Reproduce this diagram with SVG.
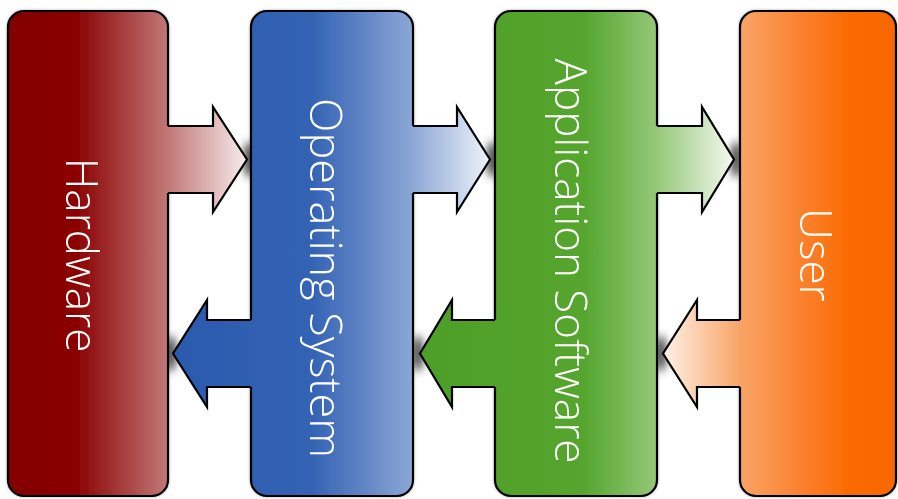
<svg xmlns="http://www.w3.org/2000/svg" width="898" height="499" viewBox="0 0 898 499">
  <style>
    .box { stroke: #000; stroke-width: 2.2; }
    .edge { fill: none; stroke: #000; stroke-width: 2.2; stroke-linejoin: miter; }
    .label { font-family: "Open Sans", "Liberation Sans", sans-serif; font-weight: 300; font-size: 44px; fill: #fff; text-anchor: middle; }
    .halo { fill: #333; filter: url(#soft); }
  </style>
  <defs>
    <filter id="soft" x="-2" y="-1" width="5" height="3">
      <feGaussianBlur stdDeviation="4"/>
    </filter>
    <filter id="lift" x="-0.1" y="-0.1" width="1.2" height="1.2">
      <feDropShadow dx="0" dy="0" stdDeviation="1.5" flood-color="#000" flood-opacity="0.3"/>
    </filter>
    <linearGradient id="gRed" gradientUnits="userSpaceOnUse" x1="8" y1="0" x2="247" y2="0">
      <stop offset="0" stop-color="#830000"/>
      <stop offset="0.28" stop-color="#8a0000"/>
      <stop offset="0.67" stop-color="#c27878"/>
      <stop offset="1" stop-color="#f7ecec"/>
    </linearGradient>
    <linearGradient id="gBlue" gradientUnits="userSpaceOnUse" x1="173" y1="0" x2="490" y2="0">
      <stop offset="0" stop-color="#2a5aae"/>
      <stop offset="0.44" stop-color="#3463b4"/>
      <stop offset="0.757" stop-color="#8ca7d6"/>
      <stop offset="1" stop-color="#eff3fa"/>
    </linearGradient>
    <linearGradient id="gGreen" gradientUnits="userSpaceOnUse" x1="420" y1="0" x2="734" y2="0">
      <stop offset="0" stop-color="#4d9e27"/>
      <stop offset="0.52" stop-color="#55a52e"/>
      <stop offset="0.755" stop-color="#95c879"/>
      <stop offset="1" stop-color="#f4f9f0"/>
    </linearGradient>
    <linearGradient id="gOrange" gradientUnits="userSpaceOnUse" x1="663" y1="0" x2="896" y2="0">
      <stop offset="0" stop-color="#fdf1e8"/>
      <stop offset="0.33" stop-color="#f9a466"/>
      <stop offset="0.59" stop-color="#fb8230"/>
      <stop offset="0.8" stop-color="#fa6a00"/>
      <stop offset="1" stop-color="#f96800"/>
    </linearGradient>
  </defs>

  <rect width="898" height="499" fill="#fff"/>

  <!-- soft grey shading where each arrow tip meets the next column -->
  <g id="tip-shading">
    <ellipse class="halo" cx="249" cy="159.5" rx="5" ry="18"/>
    <ellipse class="halo" cx="492" cy="159.5" rx="5" ry="18"/>
    <ellipse class="halo" cx="736" cy="159.5" rx="5" ry="18"/>
    <ellipse class="halo" cx="171" cy="353.5" rx="5" ry="18"/>
    <ellipse class="halo" cx="418" cy="353.5" rx="5" ry="18"/>
    <ellipse class="halo" cx="661" cy="353.5" rx="5" ry="18"/>
  </g>

  <g id="node-hardware" filter="url(#lift)">
    <rect class="box" x="8" y="11" width="160" height="485" rx="16" fill="url(#gRed)"/>
    <text class="label" transform="translate(66,255) rotate(90)">Hardware</text>
  </g>

  <g id="node-operating-system" filter="url(#lift)">
    <rect class="box" x="251" y="11" width="162" height="485" rx="16" fill="url(#gBlue)"/>
    <text class="label" style="font-size:45px" transform="translate(310,278) rotate(90)">Operating System</text>
  </g>

  <g id="node-application-software" filter="url(#lift)">
    <rect class="box" x="495" y="11" width="162" height="485" rx="16" fill="url(#gGreen)"/>
    <text class="label" transform="translate(555,261) rotate(90)">Application Software</text>
  </g>

  <g id="node-user" filter="url(#lift)">
    <rect class="box" x="740" y="11" width="156" height="485" rx="16" fill="url(#gOrange)"/>
    <text class="label" transform="translate(800,255) rotate(90)">User</text>
  </g>

  <!-- block arrows: fill overlaps the column edge so the outline stays open there -->
  <g id="connectors">
    <g id="hardware-to-os">
      <path d="M166,126 H213 V107 L247,159.5 L213,212 V193 H166 Z" fill="url(#gRed)"/>
      <path class="edge" d="M168,126 H213 V107 L247,159.5 L213,212 V193 H168"/>
    </g>
    <g id="os-to-application">
      <path d="M411,126 H457 V107 L490,159.5 L457,212 V193 H411 Z" fill="url(#gBlue)"/>
      <path class="edge" d="M413,126 H457 V107 L490,159.5 L457,212 V193 H413"/>
    </g>
    <g id="application-to-user">
      <path d="M655,126 H702 V107 L734,159.5 L702,212 V193 H655 Z" fill="url(#gGreen)"/>
      <path class="edge" d="M657,126 H702 V107 L734,159.5 L702,212 V193 H657"/>
    </g>
    <g id="os-to-hardware">
      <path d="M253,320 H207 V300 L173,353.5 L207,407 V387 H253 Z" fill="url(#gBlue)"/>
      <path class="edge" d="M251,320 H207 V300 L173,353.5 L207,407 V387 H251"/>
    </g>
    <g id="application-to-os">
      <path d="M497,320 H452 V300 L420,353.5 L452,407 V387 H497 Z" fill="url(#gGreen)"/>
      <path class="edge" d="M495,320 H452 V300 L420,353.5 L452,407 V387 H495"/>
    </g>
    <g id="user-to-application">
      <path d="M742,320 H697 V300 L663,353.5 L697,407 V387 H742 Z" fill="url(#gOrange)"/>
      <path class="edge" d="M740,320 H697 V300 L663,353.5 L697,407 V387 H740"/>
    </g>
  </g>
</svg>
